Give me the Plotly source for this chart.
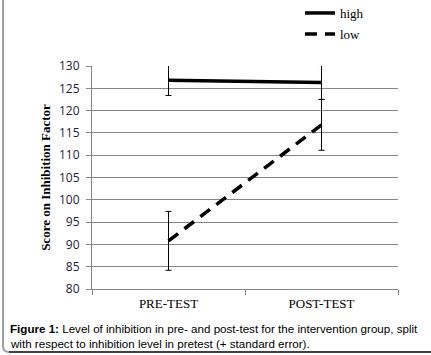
import plotly.graph_objects as go

categories = ["PRE-TEST", "POST-TEST"]
high_vals = [126.8, 126.3]
high_err = [3.4, 3.8]
low_vals = [90.8, 116.8]
low_err = [6.6, 5.7]
y_ticks = [80, 85, 90, 95, 100, 105, 110, 115, 120, 125, 130]
caption1 = "<b>Figure 1:</b> Level of inhibition in pre- and post-test for the intervention group, split"
caption2 = "with respect to inhibition level in pretest (+ standard error)."

W, H = 431, 355
L, R, T, B = 92, 398, 66, 289


def px(x):
    return (x - L) / (R - L)


def py(y):
    return (B - y) / (B - T)


fig = go.Figure()
fig.add_trace(go.Scatter(
    x=categories, y=high_vals, name="high", mode="lines",
    line=dict(color="black", width=3.5),
    error_y=dict(type="data", array=high_err, color="black", thickness=1, width=3),
    cliponaxis=False, legend="legend",
))
fig.add_trace(go.Scatter(
    x=categories, y=low_vals, name="low", mode="lines",
    line=dict(color="black", width=3.5, dash="12px,8px"),
    error_y=dict(type="data", array=low_err, color="black", thickness=1, width=3),
    cliponaxis=False, legend="legend2",
))

legfont = dict(family="Liberation Serif", size=13, color="black")
fig.update_layout(
    width=W, height=H,
    margin=dict(l=L, r=W - R, t=T, b=H - B, autoexpand=False),
    paper_bgcolor="white", plot_bgcolor="white",
    showlegend=True,
    legend=dict(x=px(300), y=py(-2), xanchor="left", yanchor="top", font=legfont,
                itemwidth=30, bgcolor="rgba(0,0,0,0)", borderwidth=0),
    legend2=dict(x=px(300), y=py(19), xanchor="left", yanchor="top", font=legfont,
                 itemwidth=30, bgcolor="rgba(0,0,0,0)", borderwidth=0),
    xaxis=dict(
        type="category", range=[-0.5, 1.5], showgrid=False,
        showline=True, linecolor="#868686", linewidth=1,
        ticks="outside", tickson="boundaries", ticklen=5, tickcolor="#868686",
        tickfont=dict(family="Liberation Serif", size=13, color="black"),
        ticklabelstandoff=2,
        fixedrange=True, automargin=False,
    ),
    yaxis=dict(
        range=[80, 130], tickvals=y_ticks, showgrid=True, gridcolor="#868686", gridwidth=1,
        showline=True, linecolor="#868686", linewidth=1,
        ticks="outside", ticklen=5, tickcolor="#868686",
        tickfont=dict(family="Open Sans", size=12, color="#1c1c3a"),
        ticklabelstandoff=4,
        title=dict(text="<b>Score on Inhibition Factor</b>",
                   font=dict(family="Liberation Serif", size=13, color="black"),
                   standoff=5),
        zeroline=False, fixedrange=True, automargin=False,
    ),
)

fig.add_annotation(text=caption1, xref="paper", yref="paper", x=px(8), y=py(328),
                   xanchor="left", yanchor="middle", showarrow=False,
                   font=dict(family="Liberation Sans", size=11.6, color="black"))
fig.add_annotation(text=caption2, xref="paper", yref="paper", x=px(8), y=py(343),
                   xanchor="left", yanchor="middle", showarrow=False,
                   font=dict(family="Liberation Sans", size=11.6, color="black"))

# frame border
fig.add_shape(type="path", xref="paper", yref="paper",
              path=f"M {px(3)},{py(0)} L {px(3)},{py(346)} Q {px(3)},{py(352)} {px(9)},{py(352)}",
              line=dict(color="#a0a0a0", width=2), layer="above")
fig.add_shape(type="line", xref="paper", yref="paper",
              x0=px(9), y0=py(352), x1=px(431), y1=py(352),
              line=dict(color="#404040", width=2), layer="above")

fig.write_html("out.html", config={"displayModeBar": False},
               post_script="document.body.style.margin='0';")
